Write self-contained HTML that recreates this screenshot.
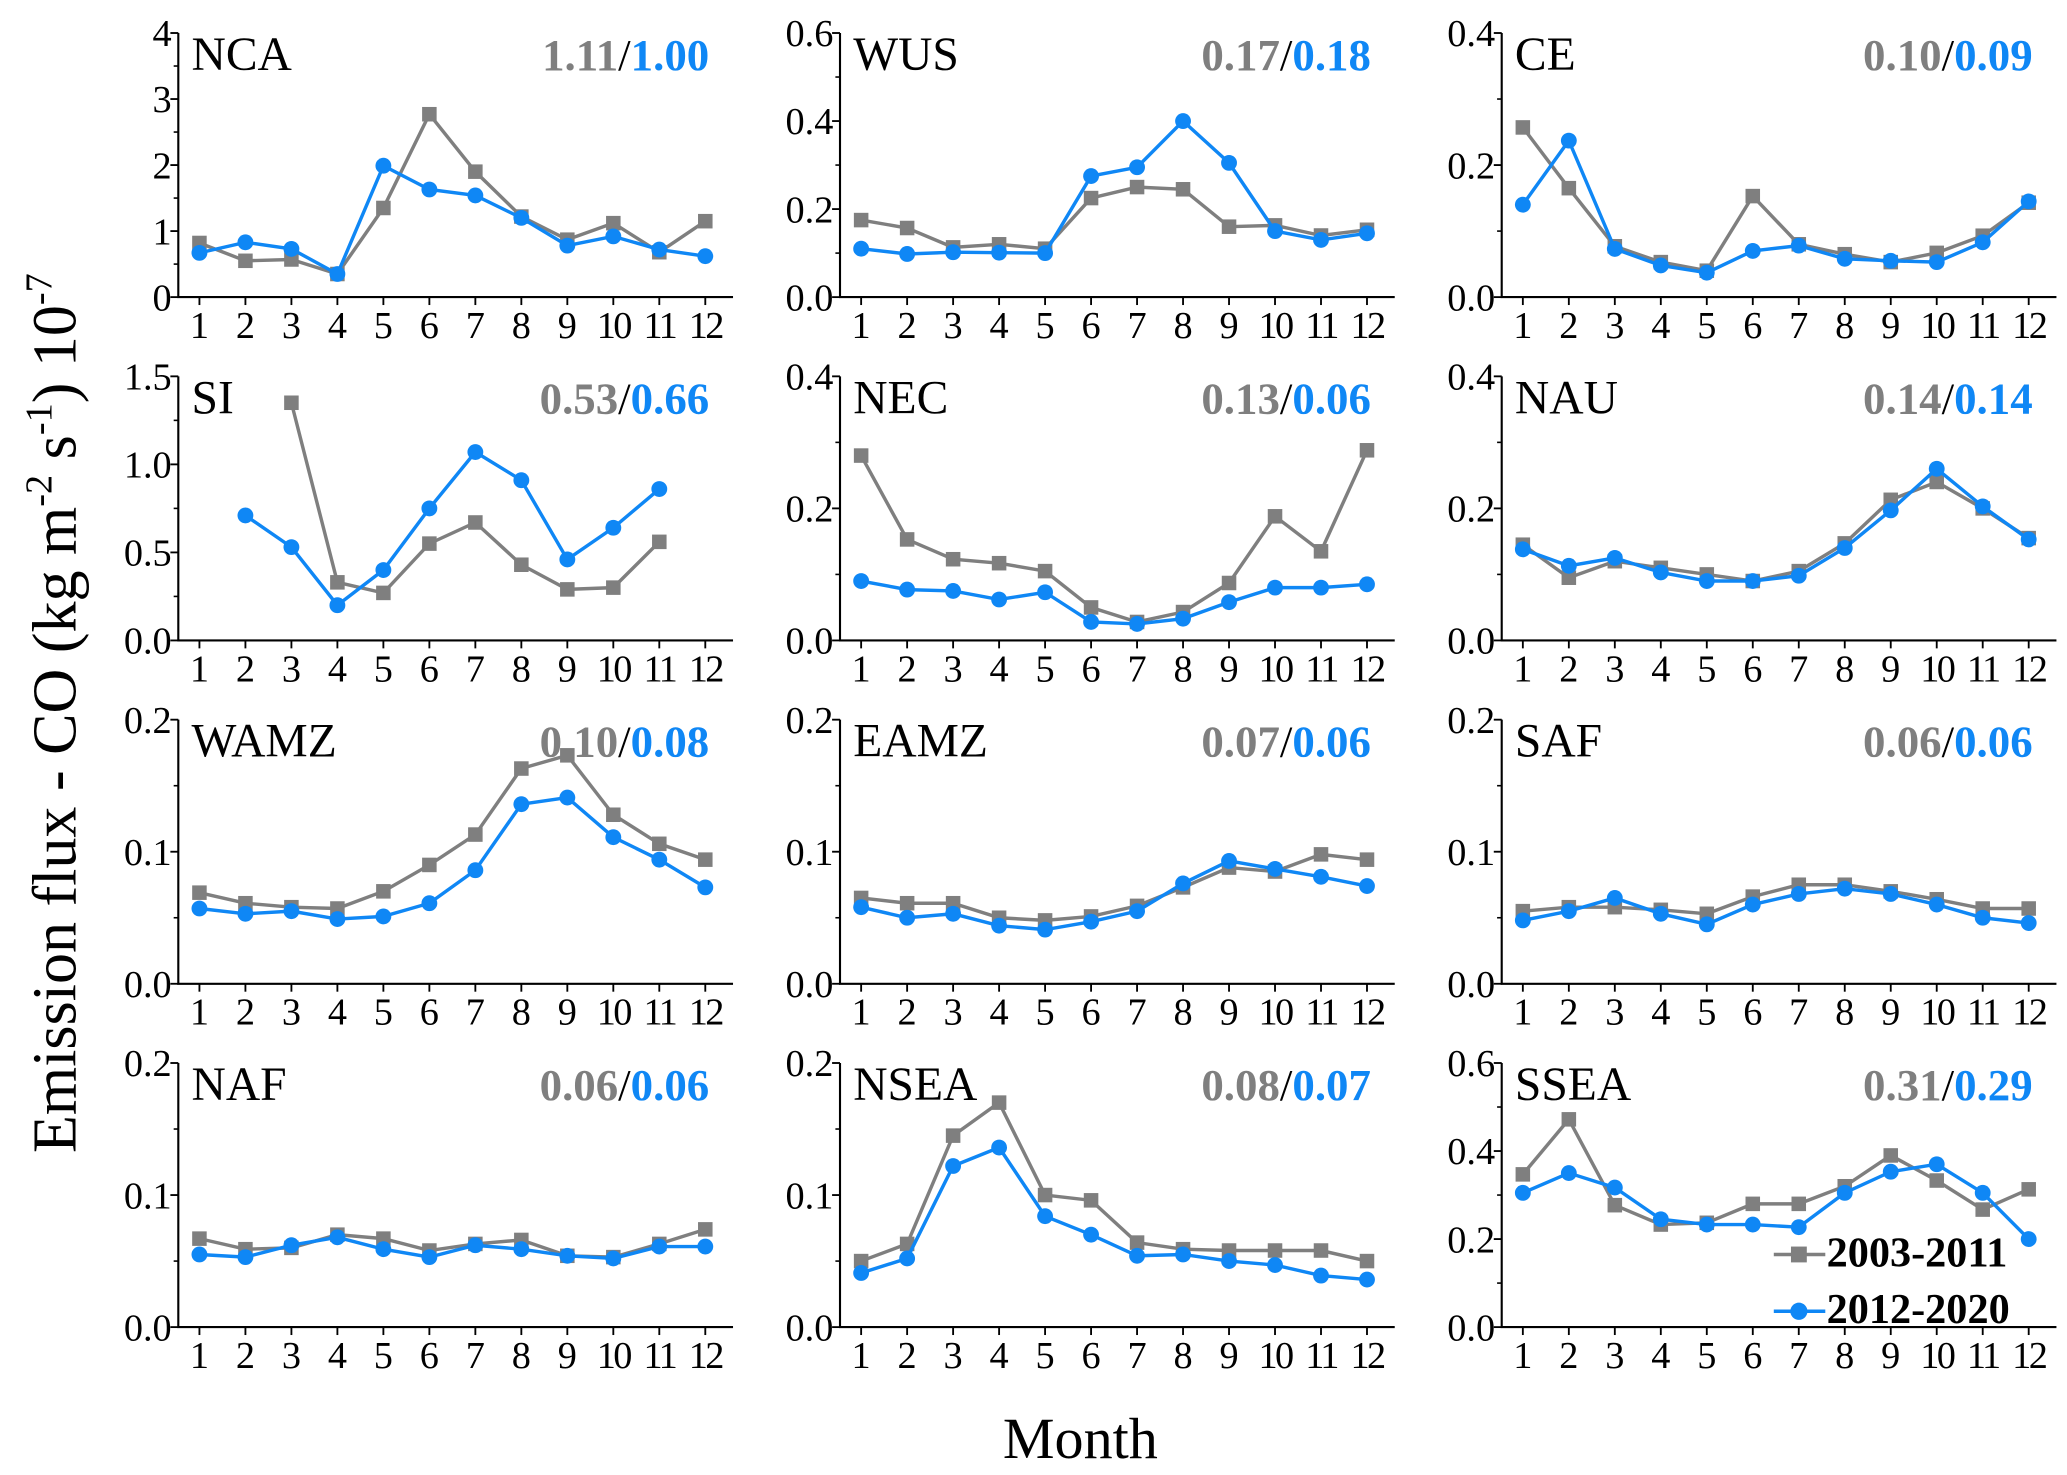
<!DOCTYPE html>
<html><head><meta charset="utf-8"><style>
html,body{margin:0;padding:0;background:#fff;}
svg{display:block;font-family:"Liberation Serif",serif;}
</style></head><body>
<svg id="chart" width="2067" height="1475" viewBox="0 0 1565 1117" preserveAspectRatio="none" xmlns="http://www.w3.org/2000/svg">
<text transform="translate(57,540) rotate(-90)" text-anchor="middle" font-size="47">Emission flux - CO (kg m<tspan dy="-18" font-size="29">-2</tspan><tspan dy="18"> s</tspan><tspan dy="-18" font-size="29">-1</tspan><tspan dy="18">) 10</tspan><tspan dy="-18" font-size="29">-7</tspan></text>
<text x="818" y="1104" text-anchor="middle" font-size="44">Month</text>
<g id="panels"></g>
</svg>
<script>
const months = [1,2,3,4,5,6,7,8,9,10,11,12];
const regions = ["NCA","WUS","CE","SI","NEC","NAU","WAMZ","EAMZ","SAF","NAF","NSEA","SSEA"];
const meansA = ["1.11","0.17","0.10","0.53","0.13","0.14","0.10","0.07","0.06","0.06","0.08","0.31"];
const meansB = ["1.00","0.18","0.09","0.66","0.06","0.14","0.08","0.06","0.06","0.06","0.07","0.29"];
const yMax = [4,0.6,0.4,1.5,0.4,0.4,0.2,0.2,0.2,0.2,0.2,0.6];
const yStep = [1,0.2,0.2,0.5,0.2,0.2,0.1,0.1,0.1,0.1,0.1,0.2];
const yDigits = [0,1,1,1,1,1,1,1,1,1,1,1];
const s2003_NCA=[.82,.55,.57,.35,1.35,2.77,1.9,1.22,.87,1.12,.68,1.15];
const s2012_NCA=[.67,.83,.73,.35,1.99,1.63,1.54,1.2,.78,.92,.72,.62];
const s2003_WUS=[.175,.157,.113,.12,.11,.225,.25,.245,.16,.163,.14,.153];
const s2012_WUS=[.11,.098,.102,.101,.1,.275,.295,.4,.305,.15,.13,.145];
const s2003_CE=[.257,.165,.077,.053,.04,.153,.08,.065,.053,.067,.093,.143];
const s2012_CE=[.14,.237,.073,.048,.037,.07,.078,.058,.055,.053,.083,.145];
const s2003_SI=[null,null,1.35,.33,.27,.55,.67,.43,.29,.3,.56,null];
const s2012_SI=[null,.71,.53,.2,.4,.75,1.07,.91,.46,.64,.86,null];
const s2003_NEC=[.28,.153,.123,.117,.105,.05,.028,.043,.087,.188,.135,.288];
const s2012_NEC=[.09,.077,.075,.062,.073,.028,.025,.033,.058,.08,.08,.085];
const s2003_NAU=[.145,.095,.12,.11,.1,.09,.105,.147,.213,.24,.2,.155];
const s2012_NAU=[.138,.113,.125,.103,.09,.09,.098,.14,.197,.26,.203,.153];
const s2003_WAMZ=[.069,.061,.058,.057,.07,.09,.113,.163,.173,.128,.106,.094];
const s2012_WAMZ=[.057,.053,.055,.049,.051,.061,.086,.136,.141,.111,.094,.073];
const s2003_EAMZ=[.065,.061,.061,.05,.048,.051,.059,.073,.088,.085,.098,.094];
const s2012_EAMZ=[.058,.05,.053,.044,.041,.047,.055,.076,.093,.087,.081,.074];
const s2003_SAF=[.055,.058,.058,.056,.053,.066,.075,.075,.07,.064,.057,.057];
const s2012_SAF=[.048,.055,.065,.053,.045,.06,.068,.072,.068,.06,.05,.046];
const s2003_NAF=[.067,.059,.06,.07,.067,.058,.063,.066,.054,.053,.063,.074];
const s2012_NAF=[.055,.053,.062,.068,.059,.053,.062,.059,.054,.052,.061,.061];
const s2003_NSEA=[.05,.063,.145,.17,.1,.096,.064,.059,.058,.058,.058,.05];
const s2012_NSEA=[.041,.052,.122,.136,.084,.07,.054,.055,.05,.047,.039,.036];
const s2003_SSEA=[.347,.472,.277,.233,.237,.28,.28,.32,.39,.333,.267,.313];
const s2012_SSEA=[.305,.35,.317,.245,.233,.233,.227,.305,.353,.37,.305,.2];
const series2003=[s2003_NCA,s2003_WUS,s2003_CE,s2003_SI,s2003_NEC,s2003_NAU,s2003_WAMZ,s2003_EAMZ,s2003_SAF,s2003_NAF,s2003_NSEA,s2003_SSEA];
const series2012=[s2012_NCA,s2012_WUS,s2012_CE,s2012_SI,s2012_NEC,s2012_NAU,s2012_WAMZ,s2012_EAMZ,s2012_SAF,s2012_NAF,s2012_NSEA,s2012_SSEA];

const NS="http://www.w3.org/2000/svg";
const GRAY="#7f7f7f", BLUE="#0f87f5";
function mk(tag, attrs, parent){const e=document.createElementNS(NS,tag);for(const k in attrs)e.setAttribute(k,attrs[k]);parent.appendChild(e);return e;}
const root=document.getElementById('panels');
for(let i=0;i<12;i++){
  const col=i%3,row=Math.floor(i/3);
  const ax=135+col*501, top=25+row*260, bot=225+row*260, right=ax+420;
  const xs=m=>ax+16+(m-1)*(383/11);
  const ys=v=>bot-(v/yMax[i])*(bot-top);
  const g=mk('g',{},root);
  
  
  const axes=mk('path',{d:`M${ax},${top} L${ax},${bot} L${right},${bot}`,stroke:'#000','stroke-width':1.6,fill:'none'},g);
  
  
  const n=Math.round(yMax[i]/yStep[i]);
  for(let k=0;k<=n;k++){
    const v=k*yStep[i], y=ys(v);
    mk('line',{x1:ax-6,x2:ax,y1:y,y2:y,stroke:'#000','stroke-width':1.4},g);
    if(k<n){const y2=ys(v+yStep[i]/2);mk('line',{x1:ax-3.5,x2:ax,y1:y2,y2:y2,stroke:'#000','stroke-width':1.2},g);}
    const t=mk('text',{x:ax-5,y:y+10,'text-anchor':'end','font-size':29},g);
    t.textContent=v.toFixed(yDigits[i]);
    
    
  }
  months.forEach(m=>{
    const x=xs(m);
    mk('line',{x1:x,x2:x,y1:bot,y2:bot+6,stroke:'#000','stroke-width':1.4},g);
    const t=mk('text',{x:x,y:bot+31,'text-anchor':'middle','font-size':29,'letter-spacing':m>9?-2:0},g);
    t.textContent=m;
    
    
  });
  const title=mk('text',{x:ax+10,y:top+28,'font-size':36},g);
  title.textContent=regions[i];
  
  
  const mv=mk('text',{x:ax+402,y:top+28,'text-anchor':'end','font-size':34,'font-weight':'bold'},g);
  
  
  const a=mk('tspan',{fill:GRAY},mv);a.textContent=meansA[i];
  const sl=mk('tspan',{fill:'#000','font-weight':'normal'},mv);sl.textContent='/';
  const b=mk('tspan',{fill:BLUE},mv);b.textContent=meansB[i];
  [[series2003[i],GRAY,'sq'],[series2012[i],BLUE,'ci']].forEach(([arr,color,mark])=>{
    let d='',pen=false;
    arr.forEach((v,j)=>{if(v==null){pen=false;return;}d+=(pen?'L':'M')+xs(months[j])+','+ys(v)+' ';pen=true;});
    const p=mk('path',{d:d,stroke:color,'stroke-width':2.6,fill:'none'},g);
    
    
    arr.forEach((v,j)=>{
      if(v==null)return;
      const x=xs(months[j]),y=ys(v);
      let e;
      if(mark==='sq')e=mk('rect',{x:x-5.5,y:y-5.5,width:11,height:11,fill:color},g);
      else e=mk('circle',{cx:x,cy:y,r:6,fill:color},g);
      
      
    });
  });
  if(i===11){
    const lg=mk('g',{},g);
    
    
    [[GRAY,'sq','2003-2011',947],[BLUE,'ci','2012-2020',990]].forEach(([c,mark,label,y])=>{
      const le=mk('g',{},lg);
      
      
      mk('line',{x1:1343,x2:1382,y1:y+3,y2:y+3,stroke:c,'stroke-width':2.6},le);
      if(mark==='sq')mk('rect',{x:1356,y:y-3,width:12,height:12,fill:c},le);
      else mk('circle',{cx:1362,cy:y+3,r:6.5,fill:c},le);
      const t=mk('text',{x:1383,y:y+12,'font-size':32,'font-weight':'bold'},le);
      t.textContent=label;
    });
  }
}
</script>
</body></html>
